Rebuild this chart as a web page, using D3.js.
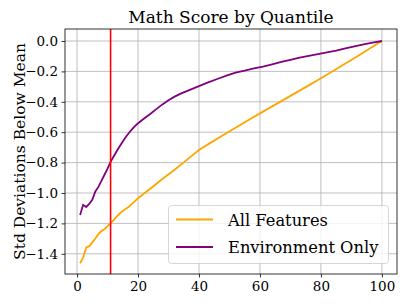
<!DOCTYPE html>
<html><head><meta charset="utf-8">
<script src="https://cdn.jsdelivr.net/npm/d3@7"></script>
<style>body{margin:0;background:#fff}svg{display:block}text{font-family:"DejaVu Serif",serif;fill:#000}</style>
</head><body><svg id="c" width="407" height="305"></svg>
<script>
const title = "Math Score by Quantile";
const yLabel = "Std Deviations Below Mean";
const seriesNames = ["All Features", "Environment Only"];
const seriesColors = ["orange", "purple"];
const cutoff = 11;
const xTicks = [0, 20, 40, 60, 80, 100];
const yTicks = [0.0, -0.2, -0.4, -0.6, -0.8, -1.0, -1.2, -1.4];

const qAll = [1,2,3,4,5,6,7,8,9,10,11,12,13,14,15,16,17,18,19,20,24,28,32,36,40,44,48,52,56,60,64,68,72,76,80,84,88,92,96,100];
const vAll = [-1.462,-1.425,-1.358,-1.350,-1.325,-1.300,-1.270,-1.250,-1.238,-1.218,-1.200,-1.178,-1.155,-1.135,-1.118,-1.103,-1.090,-1.072,-1.053,-1.035,-0.972,-0.908,-0.847,-0.782,-0.717,-0.667,-0.619,-0.571,-0.523,-0.476,-0.430,-0.384,-0.338,-0.292,-0.245,-0.197,-0.148,-0.100,-0.050,0.0];

const qEnv = [1,2,3,4,5,6,7,8,9,10,11,12,13,14,15,16,17,18,19,20,22,24,26,28,30,32,34,36,38,40,43,46,49,52,55,58,61,64,67,70,73,76,79,82,85,88,91,94,97,100];
const vEnv = [-1.145,-1.078,-1.092,-1.072,-1.045,-0.990,-0.960,-0.920,-0.880,-0.840,-0.795,-0.760,-0.725,-0.692,-0.662,-0.632,-0.605,-0.582,-0.560,-0.541,-0.510,-0.480,-0.448,-0.417,-0.390,-0.366,-0.346,-0.330,-0.313,-0.297,-0.272,-0.250,-0.228,-0.208,-0.195,-0.180,-0.168,-0.153,-0.138,-0.124,-0.110,-0.098,-0.087,-0.075,-0.063,-0.049,-0.035,-0.022,-0.010,0.0];

const svg = d3.select("#c");
const L = 65, R = 397, T = 29, B = 274;
const x = d3.scaleLinear().domain([-3.95, 104.95]).range([L, R]);
const y = d3.scaleLinear().domain([-1.533, 0.079]).range([B, T]);

// grid
const g = svg.append("g");
g.selectAll(".gx").data(xTicks).join("line")
  .attr("x1", d => x(d)).attr("x2", d => x(d)).attr("y1", T).attr("y2", B)
  .attr("stroke", "#b0b0b0").attr("stroke-width", 0.8);
g.selectAll(".gy").data(yTicks).join("line")
  .attr("y1", d => y(d)).attr("y2", d => y(d)).attr("x1", L).attr("x2", R)
  .attr("stroke", "#b0b0b0").attr("stroke-width", 0.8);

const fmt = d => (d < 0 ? "\u2212" : "") + Math.abs(d).toFixed(1);
const xa = svg.append("g").attr("transform", `translate(0,${B})`)
  .call(d3.axisBottom(x).tickValues(xTicks).tickSize(3.5).tickPadding(3.5).tickFormat(d3.format("d")));
const ya = svg.append("g").attr("transform", `translate(${L},0)`)
  .call(d3.axisLeft(y).tickValues(yTicks).tickSize(3.5).tickPadding(3.5).tickFormat(fmt));
[xa, ya].forEach(a => {
  a.select(".domain").remove();
  a.selectAll("text").attr("font-size", 13.5).attr("font-family", "DejaVu Serif");
  a.selectAll("line").attr("stroke", "#000").attr("stroke-width", 0.8);
});

const line = d3.line().x(d => x(d[0])).y(d => y(d[1]));
svg.append("path").datum(d3.zip(qAll, vAll)).attr("d", line).attr("fill", "none")
  .attr("stroke", seriesColors[0]).attr("stroke-width", 1.8);
svg.append("path").datum(d3.zip(qEnv, vEnv)).attr("d", line).attr("fill", "none")
  .attr("stroke", seriesColors[1]).attr("stroke-width", 1.8);
svg.append("line").attr("x1", x(cutoff)).attr("x2", x(cutoff)).attr("y1", T).attr("y2", B)
  .attr("stroke", "red").attr("stroke-width", 1.6);

// spines
svg.append("rect").attr("x", L).attr("y", T).attr("width", R - L).attr("height", B - T)
  .attr("fill", "none").attr("stroke", "#000").attr("stroke-width", 0.8);

// title
svg.append("text").attr("x", (L + R) / 2).attr("y", 23).attr("text-anchor", "middle")
  .attr("font-size", 17).text(title);
svg.append("text").attr("transform", `translate(25,${(T + B) / 2}) rotate(-90)`)
  .attr("text-anchor", "middle").attr("font-size", 15.5).text(yLabel);

// legend
const lg = svg.append("g");
lg.append("rect").attr("x", 168.5).attr("y", 205.5).attr("width", 220).attr("height", 58).attr("rx", 3)
  .attr("fill", "#fff").attr("fill-opacity", 0.8).attr("stroke", "#ccc").attr("stroke-width", 0.8);
seriesNames.forEach((n, i) => {
  const yy = 219.5 + i * 27.5;
  lg.append("line").attr("x1", 176).attr("x2", 213).attr("y1", yy).attr("y2", yy)
    .attr("stroke", seriesColors[i]).attr("stroke-width", 1.8);
  lg.append("text").attr("x", 228).attr("y", yy + 6).attr("font-size", 16.3).text(n);
});
</script></body></html>
